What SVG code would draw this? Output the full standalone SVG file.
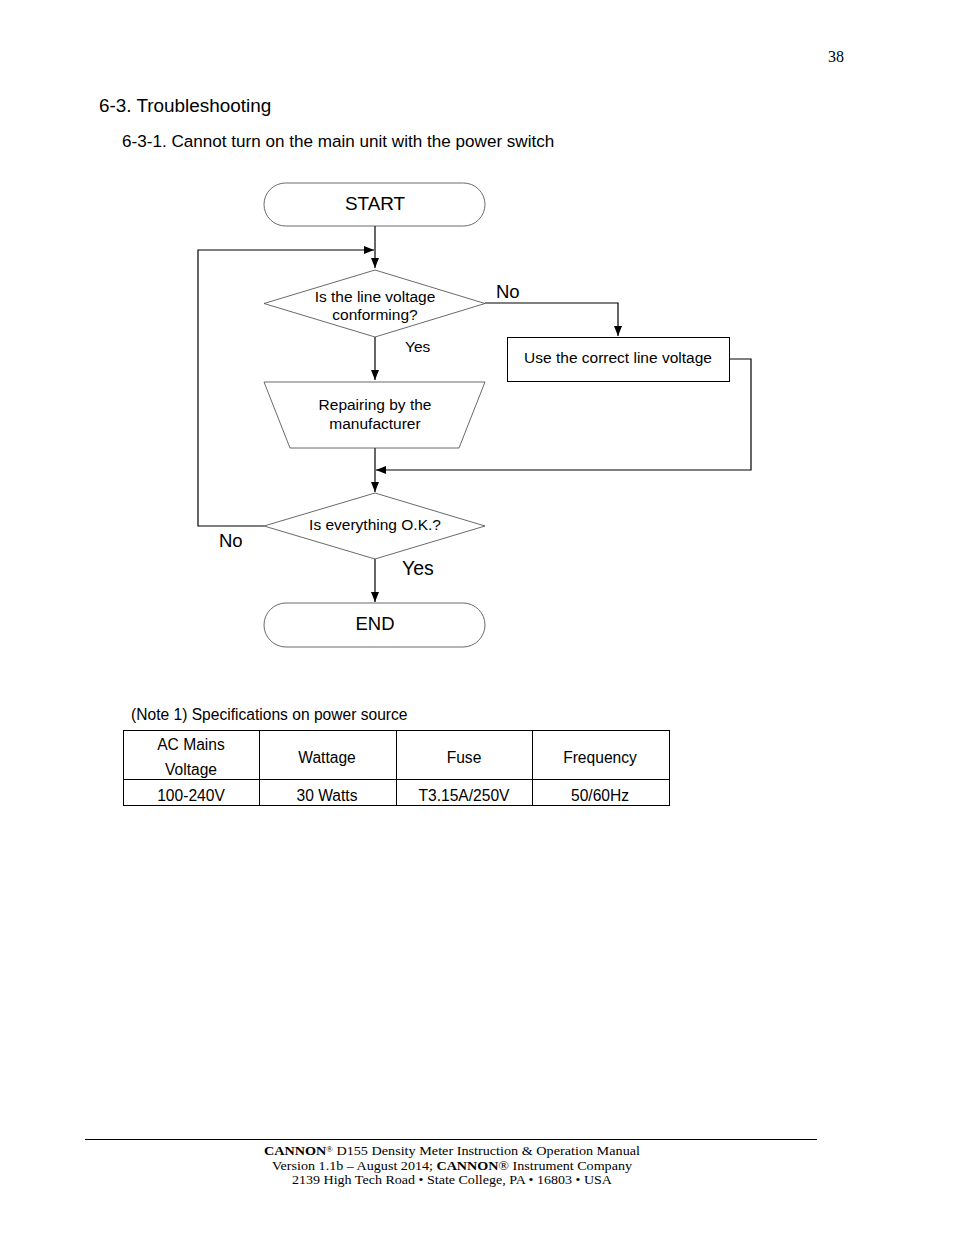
<svg xmlns="http://www.w3.org/2000/svg" width="954" height="1235" viewBox="0 0 954 1235">
<defs>
<marker id="ah" markerWidth="10" markerHeight="8" refX="10" refY="4" orient="auto" markerUnits="userSpaceOnUse">
<path d="M0,0 L10,4 L0,8 Z" fill="#000"/>
</marker>
<style>
.sans{font-family:"Liberation Sans",Arial,sans-serif;fill:#000}
.serif{font-family:"Liberation Serif","Times New Roman",serif;fill:#000}
.shape{fill:#fff;stroke:#444;stroke-width:0.8}
.box{fill:#fff;stroke:#000;stroke-width:1}
.conn{fill:none;stroke:#000;stroke-width:1.2}
.cell{fill:none;stroke:#000;stroke-width:1}
.mid{text-anchor:middle}
.fc{font-size:15.5px}
.tb{font-size:15.6px}
.ft{font-size:13.2px}
</style>
</defs>
<rect width="954" height="1235" fill="#fff"/>
<text class="serif" x="844" y="62" font-size="16" text-anchor="end">38</text>
<text class="sans" x="99" y="112" font-size="18.9">6-3. Troubleshooting</text>
<text class="sans" x="122" y="147" font-size="17.1">6-3-1. Cannot turn on the main unit with the power switch</text>

<g id="connectors">
<path class="conn" d="M375,226 V268" marker-end="url(#ah)"/>
<path class="conn" d="M264,526 H198 V250 H374" marker-end="url(#ah)"/>
<path class="conn" d="M485,303 H618 V336" marker-end="url(#ah)"/>
<path class="conn" d="M375,337 V380" marker-end="url(#ah)"/>
<path class="conn" d="M729,359 H751 V470 H376" marker-end="url(#ah)"/>
<path class="conn" d="M375,448 V492" marker-end="url(#ah)"/>
<path class="conn" d="M375,559 V602" marker-end="url(#ah)"/>
<text class="sans" x="496" y="298" font-size="18.5">No</text>
<text class="sans fc" x="405" y="352">Yes</text>
<text class="sans" x="219" y="547" font-size="18.5">No</text>
<text class="sans" x="402" y="575" font-size="19.5">Yes</text>
</g>

<g id="start">
<rect class="shape" x="264" y="183" width="221" height="43" rx="21.5" ry="21.5"/>
<text class="sans mid" x="375" y="210" font-size="18.9">START</text>
</g>
<g id="decision1">
<polygon class="shape" points="375,270 485,303.5 375,337 264,303.5"/>
<text class="sans mid fc" x="375" y="302">Is the line voltage</text>
<text class="sans mid fc" x="375" y="320">conforming?</text>
</g>
<g id="correct-voltage">
<rect class="box" x="507.5" y="337.5" width="222" height="44"/>
<text class="sans mid fc" x="618" y="363">Use the correct line voltage</text>
</g>
<g id="repair">
<polygon class="shape" points="264,382 485,382 459,448 290,448"/>
<text class="sans mid fc" x="375" y="410">Repairing by the</text>
<text class="sans mid fc" x="375" y="429">manufacturer</text>
</g>
<g id="decision2">
<polygon class="shape" points="375,493 485,526 375,559 264,526"/>
<text class="sans mid fc" x="375" y="530">Is everything O.K.?</text>
</g>
<g id="end">
<rect class="shape" x="264" y="603" width="221" height="44" rx="22" ry="22"/>
<text class="sans mid" x="375" y="630" font-size="18.5">END</text>
</g>

<g id="spec-table">
<text class="sans tb" x="131" y="720">(Note 1) Specifications on power source</text>
<rect class="cell" x="123.5" y="730.5" width="546" height="75"/>
<path class="cell" d="M123.5,779.5 H669.5 M259.5,730.5 V805.5 M396.5,730.5 V805.5 M532.5,730.5 V805.5"/>
<text class="sans mid tb" x="191" y="750">AC Mains</text>
<text class="sans mid tb" x="191" y="775">Voltage</text>
<text class="sans mid tb" x="327" y="763">Wattage</text>
<text class="sans mid tb" x="464" y="763">Fuse</text>
<text class="sans mid tb" x="600" y="763">Frequency</text>
<text class="sans mid tb" x="191" y="801">100-240V</text>
<text class="sans mid tb" x="327" y="801">30 Watts</text>
<text class="sans mid tb" x="464" y="801">T3.15A/250V</text>
<text class="sans mid tb" x="600" y="801">50/60Hz</text>
</g>

<g id="footer">
<line x1="85" y1="1139.5" x2="817" y2="1139.5" stroke="#000" stroke-width="1"/>
<text class="serif ft" x="264" y="1155" textLength="376" lengthAdjust="spacingAndGlyphs"><tspan font-weight="bold">CANNON</tspan><tspan font-size="8" dy="-3">®</tspan><tspan dy="3"> D155 Density Meter Instruction &amp; Operation Manual</tspan></text>
<text class="serif ft" x="272" y="1170" textLength="360" lengthAdjust="spacingAndGlyphs">Version 1.1b – August 2014; <tspan font-weight="bold">CANNON</tspan>® Instrument Company</text>
<text class="serif ft" x="292" y="1184" textLength="320" lengthAdjust="spacingAndGlyphs">2139 High Tech Road • State College, PA • 16803 • USA</text>
</g>
</svg>
